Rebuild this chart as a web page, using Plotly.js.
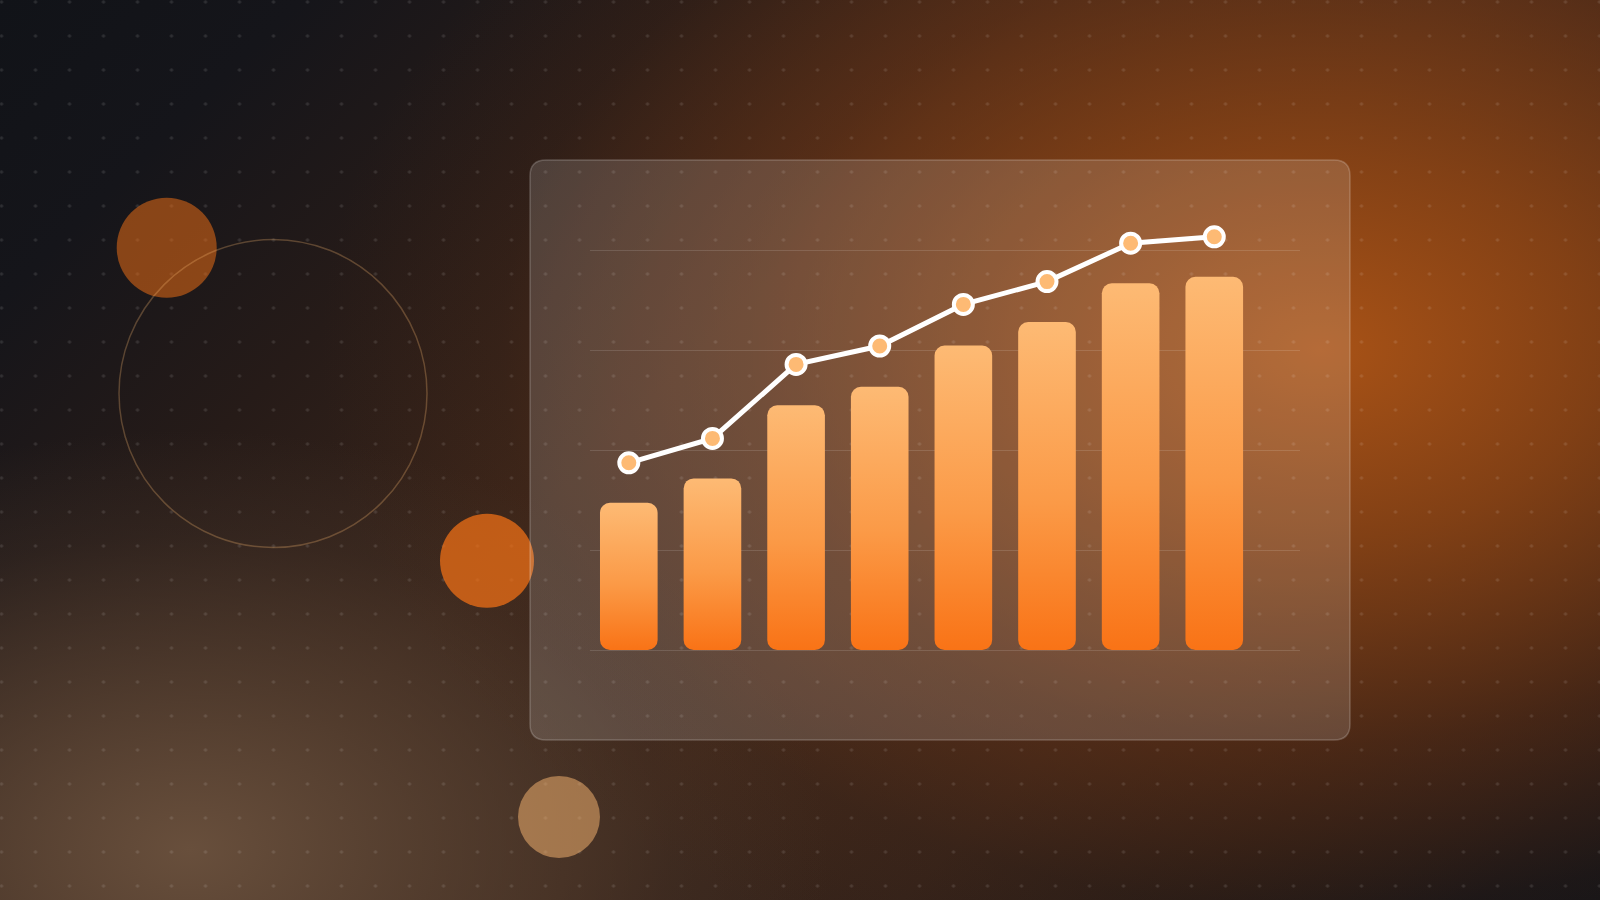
<!DOCTYPE html>
<html>
<head>
<meta charset="utf-8">
<script src="https://cdn.plot.ly/plotly-3.0.1.min.js"></script>
<style>
  html, body { margin: 0; padding: 0; width: 1600px; height: 900px; overflow: hidden; }
  body {
    background-color: #111318;
    background-image:
      radial-gradient(circle at 17px 17px, rgba(255,255,255,0.11) 0px, rgba(255,255,255,0.11) 1.3px, rgba(255,255,255,0) 2px),
      radial-gradient(ellipse 1000px 680px at 1320px 350px, rgba(168,82,22,1) 0%, rgba(150,72,20,0.8) 28%, rgba(122,57,20,0.45) 58%, rgba(90,45,20,0.15) 82%, rgba(17,19,24,0) 100%),
      radial-gradient(ellipse 640px 420px at 190px 850px, rgba(104,79,60,1) 0%, rgba(90,68,52,0.7) 40%, rgba(70,54,44,0.3) 75%, rgba(17,19,24,0) 100%),
      linear-gradient(135deg, #111318 0%, #15151a 12%, #261b18 26%, #3a251a 42%, #3d271b 58%, #33221a 72%, #231a17 84%, #141418 95%, #111318 100%);
    background-size: 34px 34px, 100% 100%, 100% 100%, 100% 100%;
    background-position: -15.5px -15px, 0 0, 0 0, 0 0;
    background-repeat: repeat, no-repeat, no-repeat, no-repeat;
  }
  #chart { width: 1600px; height: 900px; }
</style>
</head>
<body>
<div id="chart"></div>
<script>
// ---- data ----
const categories = ['P1', 'P2', 'P3', 'P4', 'P5', 'P6', 'P7', 'P8'];
const barValues  = [36.8, 42.9, 61.2, 65.8, 76.1, 82.0, 91.7, 93.3];
const lineValues = [46.8, 52.9, 71.4, 76.0, 86.4, 92.1, 101.7, 103.3];
const gridTicks  = [0, 25, 50, 75, 100];

// ---- layout helpers (pixel positions relative to plot-area origin) ----
const PLOT_L = 590, PLOT_B = 650;
function px(x) { return x - PLOT_L; }
function py(y) { return PLOT_B - y; }
function roundRectPath(x0, y0, x1, y1, r) {
  const L = px(x0), R = px(x1), T = py(y0), B = py(y1);
  return 'M' + (L + r) + ',' + B + ' L' + (R - r) + ',' + B + ' Q' + R + ',' + B + ' ' + R + ',' + (B + r) +
         ' L' + R + ',' + (T - r) + ' Q' + R + ',' + T + ' ' + (R - r) + ',' + T +
         ' L' + (L + r) + ',' + T + ' Q' + L + ',' + T + ' ' + L + ',' + (T - r) +
         ' L' + L + ',' + (B + r) + ' Q' + L + ',' + B + ' ' + (L + r) + ',' + B + ' Z';
}
function pixelShape(extra) {
  return Object.assign({
    xref: 'paper', yref: 'paper', xsizemode: 'pixel', ysizemode: 'pixel',
    xanchor: 0, yanchor: 0, layer: 'below'
  }, extra);
}
function circleShape(cx, cy, r, fill, line) {
  return pixelShape({
    type: 'circle',
    x0: px(cx - r), x1: px(cx + r), y0: py(cy + r), y1: py(cy - r),
    fillcolor: fill, line: line || { width: 0 }
  });
}

const shapes = [
  circleShape(166.7, 247.7, 50, 'rgba(249,115,22,0.5)'),
  circleShape(273, 393.5, 154, 'rgba(0,0,0,0)', { color: 'rgba(253,186,116,0.28)', width: 1.5 }),
  circleShape(487, 560.8, 47, 'rgba(249,115,22,0.7)'),
  circleShape(559, 817, 41, 'rgba(253,186,116,0.5)'),
  pixelShape({
    type: 'path',
    path: roundRectPath(530, 160, 1350, 740, 16),
    fillcolor: 'rgba(255,255,255,0.15)',
    line: { color: 'rgba(255,255,255,0.2)', width: 1.5 }
  })
];

const traces = [
  {
    type: 'bar',
    x: categories,
    y: barValues,
    width: 0.689,
    marker: { color: '#FB923C', line: { width: 0 } },
    hoverinfo: 'skip'
  },
  {
    type: 'scatter',
    mode: 'lines+markers',
    x: categories,
    y: lineValues,
    line: { color: '#FFFFFF', width: 5 },
    marker: { size: 19, color: '#FDBA74', line: { color: '#FFFFFF', width: 4 } },
    cliponaxis: false,
    hoverinfo: 'skip'
  }
];

const layout = {
  width: 1600, height: 900,
  margin: { l: 590, r: 300, t: 200, b: 250, pad: 0 },
  paper_bgcolor: 'rgba(0,0,0,0)',
  plot_bgcolor: 'rgba(0,0,0,0)',
  showlegend: false,
  xaxis: {
    type: 'category', range: [-0.464, 8.025], fixedrange: true,
    showgrid: false, zeroline: false, showline: false, showticklabels: false, ticks: ''
  },
  yaxis: {
    range: [0, 112.5], fixedrange: true,
    tickvals: gridTicks, showticklabels: false, ticks: '',
    showgrid: true, gridcolor: 'rgba(255,255,255,0.13)', gridwidth: 1,
    zeroline: true, zerolinecolor: 'rgba(255,255,255,0.13)', zerolinewidth: 1,
    showline: false
  },
  shapes: shapes
};

function styleBars() {
  const svg = document.querySelector('#chart .main-svg');
  if (!svg) return;
  const NS = 'http://www.w3.org/2000/svg';
  let defs = svg.querySelector('defs');
  if (!defs) { defs = document.createElementNS(NS, 'defs'); svg.insertBefore(defs, svg.firstChild); }
  if (!document.getElementById('barGrad')) {
    const g = document.createElementNS(NS, 'linearGradient');
    g.setAttribute('id', 'barGrad');
    g.setAttribute('x1', '0'); g.setAttribute('y1', '0');
    g.setAttribute('x2', '0'); g.setAttribute('y2', '1');
    [['0', '#FDBA74'], ['0.55', '#FB9A47'], ['1', '#F97316']].forEach(function (s) {
      const st = document.createElementNS(NS, 'stop');
      st.setAttribute('offset', s[0]);
      st.setAttribute('stop-color', s[1]);
      g.appendChild(st);
    });
    defs.appendChild(g);
  }
  document.querySelectorAll('#chart .barlayer .point path').forEach(function (p) {
    const b = p.getBBox();
    const r = Math.min(10, b.width / 2, b.height / 2);
    const x0 = b.x, y0 = b.y, x1 = b.x + b.width, y1 = b.y + b.height;
    const d = 'M' + (x0 + r) + ',' + y0 + ' H' + (x1 - r) + ' A' + r + ',' + r + ' 0 0 1 ' + x1 + ',' + (y0 + r) +
              ' V' + (y1 - r) + ' A' + r + ',' + r + ' 0 0 1 ' + (x1 - r) + ',' + y1 +
              ' H' + (x0 + r) + ' A' + r + ',' + r + ' 0 0 1 ' + x0 + ',' + (y1 - r) +
              ' V' + (y0 + r) + ' A' + r + ',' + r + ' 0 0 1 ' + (x0 + r) + ',' + y0 + ' Z';
    p.setAttribute('d', d);
    p.style.fill = 'url(#barGrad)';
  });
}

Plotly.newPlot('chart', traces, layout, { staticPlot: true, displayModeBar: false }).then(styleBars);
</script>
</body>
</html>
